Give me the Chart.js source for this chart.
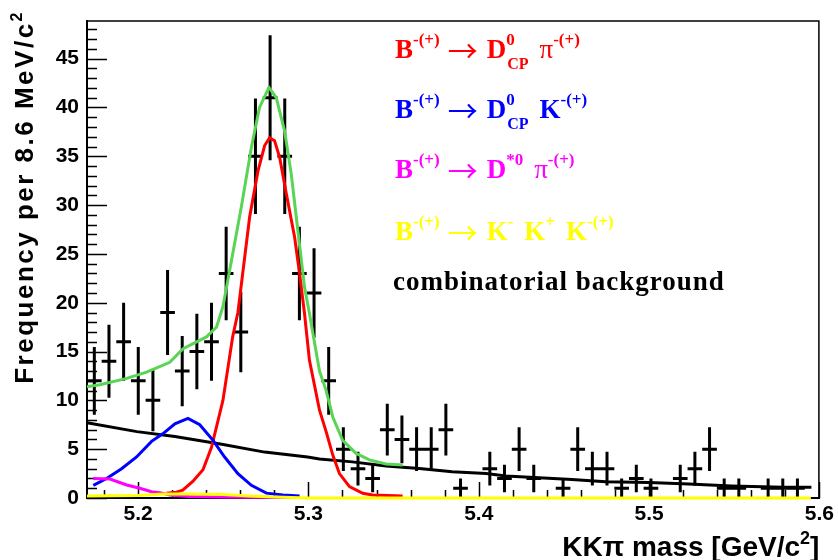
<!DOCTYPE html>
<html>
<head>
<meta charset="utf-8">
<script src="https://cdn.jsdelivr.net/npm/chart.js@4.4.0/dist/chart.umd.min.js"></script>
<style>
  body { margin: 0; background: #fff; }
</style>
</head>
<body>
<canvas id="mass" width="838" height="560"></canvas>
<script>
// histogram: 50 bins of 8.6 MeV between 5.17 and 5.6 GeV
var xMin = 5.17, xMax = 5.6, binWidth = 0.0086;
var yMax = 48.9;
var xTickValues = [5.2, 5.3, 5.4, 5.5, 5.6];
var yTickValues = [0, 5, 10, 15, 20, 25, 30, 35, 40, 45];

var counts = [12, 14, 16, 12, 10, 19, 13, 15, 16, 23,
              17, 35, 41, 35, 23, 21, 12, 5, 3, 2,
              7, 6, 5, 5, 7, 1, 0, 3, 2, 5,
              2, 0, 1, 5, 3, 3, 1, 2, 1, 0,
              2, 3, 5, 1, 1, 0, 1, 1, 1, 0];

// fit components
var totalX = [5.170, 5.1776, 5.1933, 5.2050, 5.2186, 5.2264, 5.2401, 5.2460, 5.2498, 5.2548,
              5.2606, 5.2665, 5.2713, 5.2768, 5.2811, 5.2860, 5.2899, 5.2938, 5.2977, 5.3006,
              5.3065, 5.3104, 5.3143, 5.3201, 5.3280, 5.3358, 5.3456, 5.3553];
var totalY = [11.4, 11.6, 12.25, 12.9, 13.9, 15.3, 16.5, 17.5, 19.6, 24.3,
              29.8, 35.9, 40, 42.05, 41.0, 37.6, 33.2, 27.4, 21.6, 18.9,
              13, 11, 8.3, 5.9, 4.57, 3.9, 3.48, 3.37];

var dcpPiX = [5.2167, 5.2225, 5.2262, 5.2321, 5.2381, 5.2431, 5.2498, 5.2555, 5.2586, 5.2655,
              5.2704, 5.2743, 5.2772, 5.2801, 5.2831, 5.2870, 5.2919, 5.2948, 5.2977, 5.3006,
              5.3065, 5.3104, 5.3143, 5.3182, 5.3241, 5.3319, 5.3377, 5.3553];
var dcpPiY = [0.5, 0.6, 0.8, 1.7, 2.9, 5.2, 10, 16.5, 19, 28.8,
              33.5, 36.1, 36.9, 36.6, 34.9, 31.2, 26.7, 23, 18.9, 14.1,
              9.0, 6.8, 4.4, 2.5, 1.16, 0.48, 0.3, 0.2];

var dcpKX = [5.1737, 5.1815, 5.1903, 5.1991, 5.2079, 5.2147, 5.2216, 5.2293, 5.2362, 5.2440,
             5.2508, 5.2586, 5.2665, 5.2753, 5.2850, 5.2948];
var dcpKY = [1.3, 2.0, 3.0, 4.2, 5.8, 6.6, 7.6, 8.15, 7.5, 5.9,
             4.2, 2.5, 1.3, 0.5, 0.3, 0.2];

var dstarPiX = [5.1737, 5.1835, 5.1933, 5.2010, 5.2079, 5.2128, 5.2186, 5.2300, 5.2500, 5.2907];
var dstarPiY = [2.0, 1.94, 1.33, 1.0, 0.65, 0.55, 0.3, 0.15, 0.1, 0.05];

var kkkX = [5.170, 5.200, 5.215, 5.230, 5.250, 5.265, 5.280, 5.300, 5.595];
var kkkY = [0.2, 0.25, 0.4, 0.4, 0.35, 0.2, 0.1, 0.0, 0.0];

var bkgX = [5.1700, 5.1993, 5.2216, 5.2491, 5.2743, 5.2995, 5.3065, 5.3258, 5.3456, 5.3651,
            5.3844, 5.4043, 5.4160, 5.4354, 5.4547, 5.4746, 5.4998, 5.5233, 5.5484, 5.5789, 5.5953];
var bkgY = [7.7, 6.8, 6.3, 5.5, 4.7, 4.2, 4.0, 3.7, 3.27, 3.03,
            2.7, 2.5, 2.25, 2.08, 1.9, 1.67, 1.6, 1.43, 1.23, 1.09, 1.09];

// legend lines: [text, kind, subscript]
var legendEntries = [
  { color: '#ff0000', parts: [['B'], ['-(+)', 'sup'], ['\u2192', 'arrow'], ['D'], ['0', 'sup', 'CP'], ['\u03c0', 'pi'], ['-(+)', 'sup']] },
  { color: '#0000ff', parts: [['B'], ['-(+)', 'sup'], ['\u2192', 'arrow'], ['D'], ['0', 'sup', 'CP'], ['K'], ['-(+)', 'sup']] },
  { color: '#ff00ff', parts: [['B'], ['-(+)', 'sup'], ['\u2192', 'arrow'], ['D'], ['*0', 'sup'], ['\u03c0', 'pi'], ['-(+)', 'sup']] },
  { color: '#ffff00', parts: [['B'], ['-(+)', 'sup'], ['\u2192', 'arrow'], ['K'], ['-', 'sup'], ['K'], ['+', 'sup'], ['K'], ['-(+)', 'sup']] },
  { color: '#000000', parts: [['combinatorial background', 'plain']] }
];
var xTitle = ['KK\u03c0 mass [GeV/c', '2', ']'];
var yTitle = ['Frequency per 8.6 MeV/c', '2'];

// error bars built from the counts (Poisson errors)
var vBars = [], hBars = [];
counts.forEach(function (n, i) {
  if (n === 0) return;
  var c = xMin + (i + 0.5) * binWidth;
  var e = Math.sqrt(n);
  vBars.push({ x: c, y: n - e }, { x: c, y: n + e }, { x: c, y: null });
  hBars.push({ x: c - binWidth / 2, y: n }, { x: c + binWidth / 2, y: n }, { x: c, y: null });
});

function curve(xs, ys, color) {
  return {
    data: xs.map(function (x, i) { return { x: x, y: ys[i] }; }),
    showLine: true, borderColor: color, borderWidth: 3,
    pointRadius: 0, tension: 0, fill: false, clip: false
  };
}

var SANS = '"Liberation Sans", Arial, sans-serif';
var SERIF = '"Liberation Serif", "DejaVu Serif", serif';

function drawLegendLine(ctx, parts, x, y) {
  var cx = x, prev = null;
  parts.forEach(function (p) {
    var kind = p[1] || 'main';
    var w;
    if (kind === 'sup') {
      ctx.font = 'bold 17px ' + SERIF;
      w = ctx.measureText(p[0]).width;
      ctx.fillText(p[0], cx, y - 13);
      if (p[2]) {
        ctx.font = 'bold 16px ' + SERIF;
        var w2 = ctx.measureText(p[2]).width;
        ctx.fillText(p[2], cx + 1, y + 11);
        w = Math.max(w, w2 + 1);
      }
      cx += w + 1;
    } else if (kind === 'arrow') {
      cx += 7;
      ctx.font = '30px "Noto Sans CJK SC", "DejaVu Serif", serif';
      w = ctx.measureText(p[0]).width;
      ctx.fillText(p[0], cx, y + 4);
      cx += w + 9;
    } else {
      if (prev === 'sup') cx += 10;
      if (kind === 'pi') ctx.font = '27px ' + SERIF;
      else ctx.font = 'bold 27px ' + SERIF;
      if (kind === 'plain') ctx.letterSpacing = '1px';
      w = ctx.measureText(p[0]).width;
      ctx.fillText(p[0], cx, y);
      ctx.letterSpacing = '0px';
      cx += w;
    }
    prev = kind;
  });
}

var rootDecor = {
  id: 'rootDecor',
  beforeDatasetsDraw: function (chart) {
    var ctx = chart.ctx, a = chart.chartArea;
    var xs = chart.scales.x, ys = chart.scales.y;
    ctx.save();
    ctx.strokeStyle = '#000';
    ctx.lineWidth = 1.5;
    ctx.beginPath();
    ctx.moveTo(a.left, a.top + 0.5);
    ctx.lineTo(a.right - 0.5, a.top + 0.5);
    ctx.lineTo(a.right - 0.5, a.bottom);
    ctx.stroke();
    // y ticks, pointing into the frame
    ctx.beginPath();
    for (var v = 0; v <= 48; v++) {
      var py = Math.round(ys.getPixelForValue(v)) + 0.5;
      var len = v % 5 === 0 ? 20 : 10;
      ctx.moveTo(a.left, py);
      ctx.lineTo(a.left + len, py);
    }
    // x ticks every 0.02
    for (var k = 259; k <= 280; k++) {
      var px = Math.round(xs.getPixelForValue(k / 50)) + 0.5;
      var l = k % 5 === 0 ? 16 : 8;
      ctx.moveTo(px, a.bottom);
      ctx.lineTo(px, a.bottom - l);
    }
    ctx.stroke();
    ctx.restore();
  },
  afterDraw: function (chart) {
    var ctx = chart.ctx;
    ctx.save();
    ctx.textBaseline = 'alphabetic';
    ctx.textAlign = 'left';
    var baselines = [58, 118, 178, 240, 290];
    legendEntries.forEach(function (e, i) {
      ctx.fillStyle = e.color;
      drawLegendLine(ctx, e.parts, i === 4 ? 393 : 395, baselines[i]);
    });

    ctx.fillStyle = '#000';
    // x axis title, right aligned to the frame
    ctx.font = 'bold 28px ' + SANS;
    var w1 = ctx.measureText(xTitle[0]).width;
    var w3 = ctx.measureText(xTitle[2]).width;
    ctx.font = 'bold 18px ' + SANS;
    var w2 = ctx.measureText(xTitle[1]).width;
    var x0 = chart.chartArea.right - (w1 + w2 + w3);
    ctx.font = 'bold 28px ' + SANS;
    ctx.fillText(xTitle[0], x0, 556);
    ctx.fillText(xTitle[2], x0 + w1 + w2, 556);
    ctx.font = 'bold 18px ' + SANS;
    ctx.fillText(xTitle[1], x0 + w1, 544);

    // y axis title, rotated, ending near the top
    ctx.translate(33, 10);
    ctx.rotate(-Math.PI / 2);
    ctx.font = 'bold 26px ' + SANS;
    ctx.letterSpacing = '2.5px';
    var ya = ctx.measureText(yTitle[0]).width;
    ctx.font = 'bold 16px ' + SANS;
    var yb = ctx.measureText(yTitle[1]).width;
    ctx.font = 'bold 26px ' + SANS;
    ctx.fillText(yTitle[0], -(ya + yb), 0);
    ctx.font = 'bold 16px ' + SANS;
    ctx.fillText(yTitle[1], -yb, -11);
    ctx.restore();
  }
};

var tickFont = { family: SANS, size: 21, weight: 'bold' };

new Chart(document.getElementById('mass'), {
  type: 'scatter',
  data: {
    datasets: [
      curve(kkkX, kkkY, '#ffff00'),
      curve(dstarPiX, dstarPiY, '#ff00ff'),
      curve(dcpKX, dcpKY, '#0000ff'),
      curve(dcpPiX, dcpPiY, '#ff0000'),
      curve(totalX, totalY, 'rgb(89,212,84)'),
      curve(bkgX, bkgY, '#000000'),
      { data: vBars, showLine: true, spanGaps: false, borderColor: '#000', borderWidth: 3, pointRadius: 0, clip: false },
      { data: hBars, showLine: true, spanGaps: false, borderColor: '#000', borderWidth: 3, pointRadius: 0, clip: false }
    ]
  },
  options: {
    responsive: false,
    animation: false,
    layout: { padding: { top: 20, right: 17, left: 0, bottom: 0 } },
    plugins: { legend: { display: false }, tooltip: { enabled: false } },
    scales: {
      x: {
        type: 'linear', min: xMin, max: xMax,
        grid: { display: false, drawTicks: false },
        border: { display: true, color: '#000', width: 2 },
        ticks: { font: tickFont, color: '#000', padding: 4, maxRotation: 0,
                 callback: function (v) { return v.toFixed(1); } },
        afterBuildTicks: function (s) { s.ticks = xTickValues.map(function (v) { return { value: v }; }); },
        afterFit: function (s) { s.height = 62; }
      },
      y: {
        type: 'linear', min: 0, max: yMax,
        grid: { display: false, drawTicks: false },
        border: { display: true, color: '#000', width: 2 },
        ticks: { font: tickFont, color: '#000', padding: 8,
                 callback: function (v) { return String(v); } },
        afterBuildTicks: function (s) { s.ticks = yTickValues.map(function (v) { return { value: v }; }); },
        afterFit: function (s) { s.width = 87; }
      }
    }
  },
  plugins: [rootDecor]
});
</script>
</body>
</html>
